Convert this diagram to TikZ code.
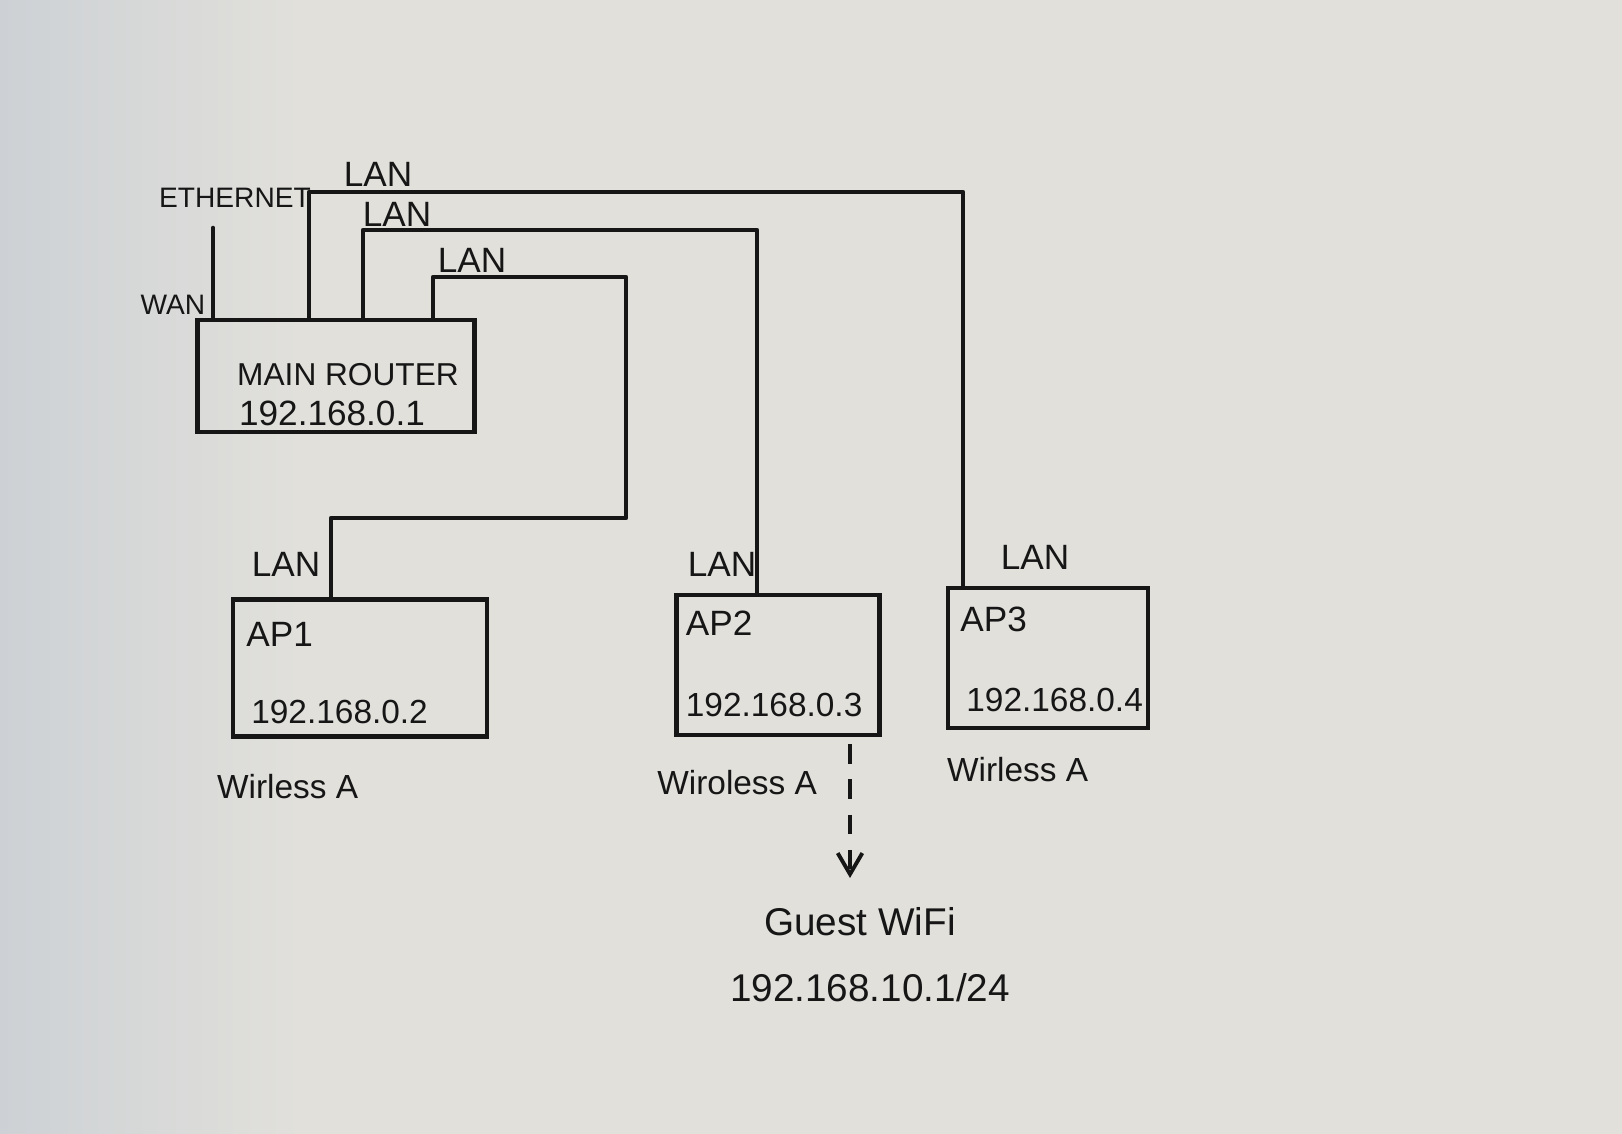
\documentclass[tikz,border=0pt]{standalone}
\usepackage{fontspec}
\setmainfont{Liberation Sans}
\usepackage{tikz}
\usetikzlibrary{calc,positioning,arrows.meta}
\definecolor{paper}{HTML}{E1E0DB}
\definecolor{shadow}{HTML}{CDD1D5}
\definecolor{ink}{HTML}{161616}
\tikzset{
  wire/.style={draw=ink, line width=1.3pt, line cap=round, line join=round},
  box/.style={draw=ink, line width=1.3pt, rectangle, inner sep=0pt},
  guest/.style={draw=ink, line width=1.1pt, dash pattern=on 5.5pt off 4.5pt, -{Straight Barb[length=6pt,width=7pt]}},
  lab/.style={text=ink, inner sep=0pt, font=\fontsize{10}{12}\selectfont},
  ip/.style={text=ink, inner sep=0pt, font=\fontsize{9.5}{11}\selectfont},
  tiny/.style={text=ink, inner sep=0pt, font=\fontsize{8}{10}\selectfont},
  big/.style={text=ink, inner sep=0pt, font=\fontsize{11}{13}\selectfont},
}
\begin{document}
\begin{tikzpicture}[x=0.01cm, y=0.01cm]
  \fill[paper] (0,0) rectangle (1622,-1134);
  \shade[left color=shadow, right color=paper] (0,0) rectangle (300,-1134);
  \useasboundingbox (0,0) rectangle (1622,-1134);
  % boxes
  \node[box, minimum width=2.77cm, minimum height=1.12cm] (router) at (336,-376) {};
  \node[box, minimum width=2.54cm, minimum height=1.37cm] (ap1) at (360,-668) {};
  \node[box, minimum width=2.03cm, minimum height=1.40cm] (ap2) at (778,-665) {};
  \node[box, minimum width=2.00cm, minimum height=1.40cm] (ap3) at (1048,-658) {};
  \node[ip, font=\fontsize{9}{11}\selectfont] (rname) at ($(router)+(12,1)$) {MAIN ROUTER};
  \node[lab] (rip) at ($(router)+(-4,-37)$) {192.168.0.1};
  \node[lab, anchor=west] (ap1name) at ($(ap1.north west)+(15,-37)$) {AP1};
  \node[ip, anchor=west] (ap1ip) at ($(ap1.west)+(20,-44)$) {192.168.0.2};
  \node[lab, anchor=west] (ap2name) at ($(ap2.north west)+(11,-31)$) {AP2};
  \node[ip, anchor=west] (ap2ip) at ($(ap2.west)+(11,-40)$) {192.168.0.3};
  \node[lab, anchor=west] (ap3name) at ($(ap3.north west)+(14,-34)$) {AP3};
  \node[ip, anchor=west] (ap3ip) at ($(ap3.west)+(20,-42)$) {192.168.0.4};
  \node[ip] (ap1mode) at ($(ap1.south west)+(57,-48)$) {Wirless A};
  \node[ip] (ap2mode) at ($(ap2.south west)+(63,-45)$) {Wiroless A};
  \node[ip] (ap3mode) at ($(ap3.south west)+(72,-39)$) {Wirless A};
  % uplink
  \coordinate (wan) at (213,-228);
  \draw[wire] (router.north -| wan) -- (wan);
  \node[tiny] (eth) at ($(wan)+(22,30)$) {ETHERNET};
  \node[tiny] (wanlab) at ($(wan)+(-40,-77)$) {WAN};
  % lan runs
  \coordinate (p1) at (309,-192);
  \coordinate (q1) at (963,-192);
  \draw[wire] (router.north -| p1) -- (p1) -- (q1) -- (ap3.north -| q1);
  \coordinate (p2) at (363,-230);
  \coordinate (q2) at (757,-230);
  \draw[wire] (router.north -| p2) -- (p2) -- (q2) -- (ap2.north -| q2);
  \coordinate (p3) at (433,-277);
  \coordinate (q3) at (626,-277);
  \coordinate (r3) at (626,-518);
  \coordinate (s3) at (331,-518);
  \draw[wire] (router.north -| p3) -- (p3) -- (q3) -- (r3) -- (s3) -- (ap1.north -| s3);
  \node[lab] (lan1) at ($(p1)+(69,18)$) {LAN};
  \node[lab] (lan2) at ($(p2)+(34,16)$) {LAN};
  \node[lab] (lan3) at ($(p3)+(39,17)$) {LAN};
  \node[lab] (lan4) at ($(ap1.north -| s3)+(-45,33)$) {LAN};
  \node[lab] (lan5) at ($(ap2.north -| q2)+(-35,28)$) {LAN};
  \node[lab] (lan6) at ($(ap3.north -| q1)+(72,28)$) {LAN};
  % guest network
  \node[big] (guestnet) at (860,-922) {Guest WiFi};
  \node[big] (guestip) at (870,-988) {192.168.10.1/24};
  \coordinate (gtip) at (850,-878);
  \draw[guest] ($(ap2.south -| gtip)+(0,-7)$) -- (gtip);
\end{tikzpicture}
\end{document}
